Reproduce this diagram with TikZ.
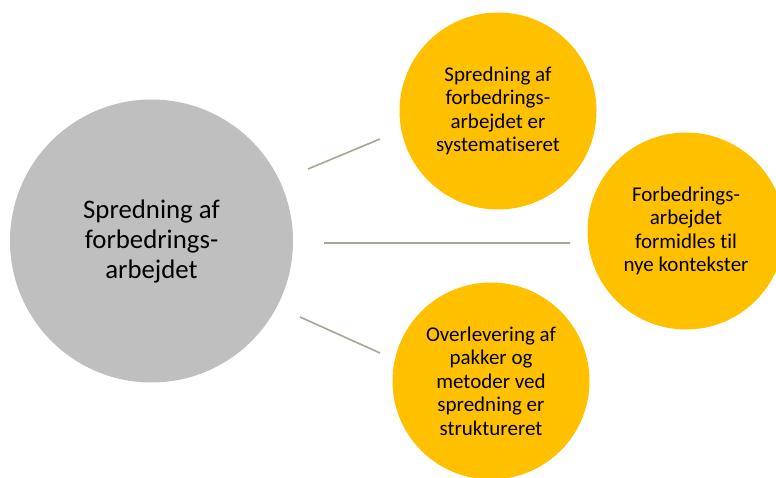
\documentclass[tikz,border=0pt]{standalone}
\usepackage{fontspec}
\setmainfont{Carlito}[Ligatures=NoCommon]
\definecolor{circgrey}{HTML}{BFBFBF}
\definecolor{circyellow}{HTML}{FFC000}
\definecolor{linkgrey}{HTML}{A6A693}
\begin{document}
\begin{tikzpicture}[x=1pt,y=-1pt,
  bigcirc/.style={circle,fill=circgrey,inner sep=0pt,minimum size=283pt,align=center,
     font=\fontsize{26.8}{30}\selectfont},
  smallcirc/.style={circle,fill=circyellow,inner sep=0pt,minimum size=197pt,align=center,
     font=\fontsize{21}{23.4}\selectfont},
  link/.style={draw=linkgrey,line width=1.6pt}]
\useasboundingbox (0,0) rectangle (776,478);
\clip (0,0) rectangle (776,478);
\node[bigcirc] (big) at (151.5,241) {Spredning af\\forbedrings-\\arbejdet};
\node[smallcirc] (top) at (498,111) {Spredning af\\forbedrings-\\arbejdet er\\systematiseret};
\node[smallcirc] (mid) at (686,231) {Forbedrings-\\arbejdet\\formidles til\\nye kontekster};
\node[smallcirc] (bot) at (491,381) {Overlevering af\\pakker og\\metoder ved\\spredning er\\struktureret};
\coordinate (l1a) at (308,169);
\coordinate (l1b) at (380,139);
\coordinate (l2a) at (324,243);
\coordinate (l2b) at (570,243);
\coordinate (l3a) at (300,317);
\coordinate (l3b) at (380,353);
\draw[link] (l1a) -- (l1b);
\draw[link] (l2a) -- (l2b);
\draw[link] (l3a) -- (l3b);
\end{tikzpicture}
\end{document}
